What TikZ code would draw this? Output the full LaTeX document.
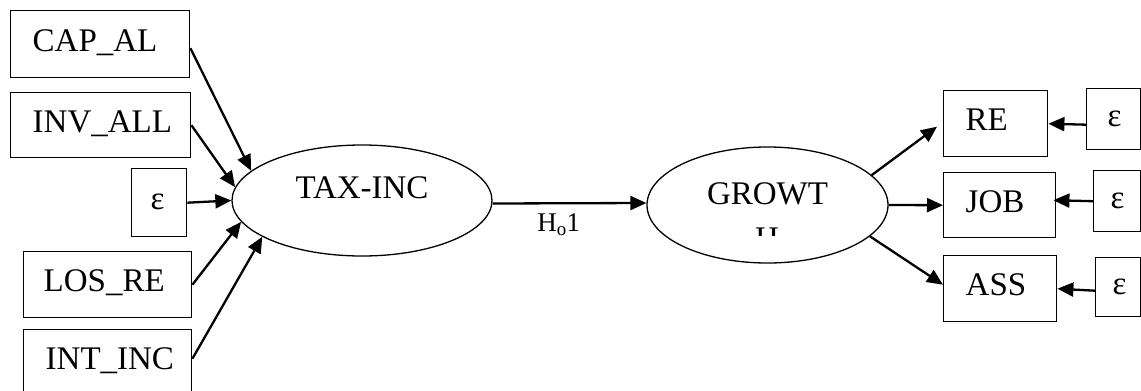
\documentclass[tikz,border=0pt]{standalone}
\usepackage{fontspec}
\setmainfont{Liberation Serif}
\usetikzlibrary{arrows.meta,shapes.geometric}
\tikzset{
  bx/.style={draw, line width=1.4pt, rectangle, anchor=north west, align=left,
    inner ysep=0pt, text height=22pt, text depth=8pt,
    font=\fontsize{33}{38}\selectfont},
  lat/.style={draw, line width=1.3pt, ellipse, inner sep=0pt,
    font=\fontsize{33}{38}\selectfont},
  conn/.style={line width=2.3pt, -{Triangle[length=16pt,width=14pt]}},
  lbl/.style={font=\fontsize{27}{31}\selectfont, inner sep=0pt, anchor=base},
}
\begin{document}
\begin{tikzpicture}[x=1pt,y=-1pt]
\useasboundingbox (0,0) rectangle (1141,391);
% left boxes
\node[bx, text width=135pt, inner xsep=22pt, minimum height=67pt] (cap) at (10,10) {CAP\_AL};
\node[bx, text width=136pt, inner xsep=22pt, minimum height=65pt] (inv) at (10,92) {INV\_ALL};
\node[bx, text width=17pt, inner xsep=19pt, minimum height=68pt] (epsL) at (131,168) {ε};
\node[bx, text width=128pt, inner xsep=20pt, minimum height=66pt] (los) at (23,251) {LOS\_RE};
\node[bx, text width=124pt, inner xsep=22pt, minimum height=66pt] (int) at (23,329) {INT\_INC};
% latent variables
\node[lat, minimum width=260pt, minimum height=111pt, text height=22pt, text depth=27pt] (tax) at (362,200.5) {TAX-INC};
\node[lat, minimum width=241pt, minimum height=116pt, text height=22pt, text depth=24pt] (grow) at (767.5,205) {GROWT};
\begin{scope}
\clip (740,220) rectangle (800,235.5);
\node[inner sep=0pt, anchor=base, font=\fontsize{33}{38}\selectfont] (growH) at (767,249) {H};
\end{scope}
% right boxes
\node[bx, text width=60pt, inner xsep=22pt, minimum height=66pt] (re) at (943,90) {RE};
\node[bx, text width=68pt, inner xsep=22pt, minimum height=65pt] (job) at (943,172) {JOB};
\node[bx, text width=69pt, inner xsep=22pt, minimum height=66pt] (ass) at (943,255) {ASS};
\node[bx, text width=12pt, inner xsep=21pt, minimum height=61pt] (eps1) at (1086,88) {ε};
\node[bx, text width=13pt, inner xsep=17pt, minimum height=61pt] (eps2) at (1093,170) {ε};
\node[bx, text width=11pt, inner xsep=17pt, minimum height=59pt] (eps3) at (1095,257) {ε};
% left connectors
\draw[conn] ([yshift=-4pt]cap.east) -- (tax.165);
\draw[conn] (inv.east) -- (tax.174);
\draw[conn] (epsL.east) -- (tax.180);
\draw[conn] (los.east) -- (tax.190);
\draw[conn] ([yshift=4pt]int.east) -- (tax.200);
% main path
\draw[conn] ([yshift=-3pt]tax.east) -- node[lbl, pos=0.43, yshift=-28pt] (h01) {H\textsubscript{o}1} ([yshift=2pt]grow.west);
% right connectors
\draw[conn] (grow.16) -- ([xshift=-6pt,yshift=-3pt]re.west);
\draw[conn] (grow.east) -- (job.west);
\draw[conn] (grow.-17) -- ([yshift=4pt]ass.west);
\draw[conn] ([yshift=-5.5pt]eps1.west) -- (re.east);
\draw[conn] (eps2.west) -- ([xshift=-3pt,yshift=5pt]job.east);
\draw[conn] ([yshift=-3.5pt]eps3.west) -- (ass.east);
\end{tikzpicture}
\end{document}
